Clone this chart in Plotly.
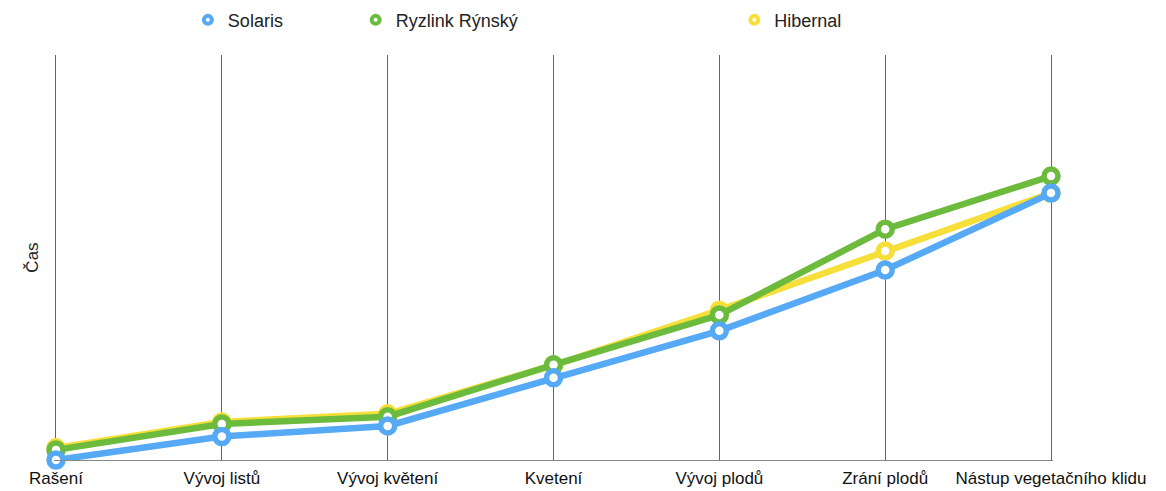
import plotly.graph_objects as go

# Phenological stages (x categories)
stages = ["Rašení", "Vývoj listů", "Vývoj květení", "Kvetení",
          "Vývoj plodů", "Zrání plodů", "Nástup vegetačního klidu"]

# Relative time of each stage per variety
solaris = [0.0, 5.8, 8.4, 20.3, 31.9, 46.9, 65.9]
ryzlink = [2.5, 8.9, 10.7, 23.5, 35.8, 57.0, 70.1]
hibernal = [3.0, 9.4, 11.4, 23.4, 37.0, 51.6, 65.9]

series_names = ["Solaris", "Ryzlink Rýnský", "Hibernal"]
series_values = [solaris, ryzlink, hibernal]
colors = ["#55A9F5", "#6CBB3C", "#F7DF3A"]

FONT = "Liberation Sans"

fig = go.Figure()

# Draw order: Hibernal underneath, then Ryzlink, Solaris on top
for idx in [2, 1, 0]:
    fig.add_trace(go.Scatter(
        x=stages, y=series_values[idx], mode="lines+markers",
        name=series_names[idx], showlegend=False, cliponaxis=False,
        line=dict(color=colors[idx], width=6.5),
        marker=dict(symbol="circle", size=14, color="white",
                    line=dict(color=colors[idx], width=5.5)),
    ))

# Legend entries: ring markers only, each in its own legend box
legend_x = [0.134, 0.302, 0.681]
for i, (name, col) in enumerate(zip(series_names, colors)):
    lg = "legend" if i == 0 else f"legend{i + 1}"
    fig.add_trace(go.Scatter(
        x=[None], y=[None], mode="markers", name=name, legend=lg,
        marker=dict(symbol="circle", size=8, color="white",
                    line=dict(color=col, width=4)),
    ))

legend_style = dict(orientation="h", yanchor="middle", y=1.086, xanchor="left",
                    bgcolor="rgba(0,0,0,0)", borderwidth=0,
                    font=dict(family=FONT, size=18, color="#222222"))
fig.update_layout(
    legend=dict(x=legend_x[0], **legend_style),
    legend2=dict(x=legend_x[1], **legend_style),
    legend3=dict(x=legend_x[2], **legend_style),
)

fig.update_layout(
    width=1166, height=491,
    margin=dict(l=54, r=113, t=55, b=31, autoexpand=False),
    paper_bgcolor="white", plot_bgcolor="white",
    font=dict(family=FONT, size=17, color="#222222"),
    xaxis=dict(
        type="category", range=[-0.012, 6.012], showgrid=True,
        gridcolor="#666666", gridwidth=1, showline=True,
        linecolor="#888888", linewidth=1, ticks="", automargin=False,
        ticklabelstandoff=3,
        tickfont=dict(family=FONT, size=17, color="#111111"),
        zeroline=False,
    ),
    yaxis=dict(
        range=[0, 100], showgrid=False, zeroline=False, showline=False,
        showticklabels=False, ticks="", automargin=False,
        title=dict(text="Čas", standoff=10,
                   font=dict(family=FONT, size=17, color="#222222")),
    ),
)

fig.write_html("out.html")
